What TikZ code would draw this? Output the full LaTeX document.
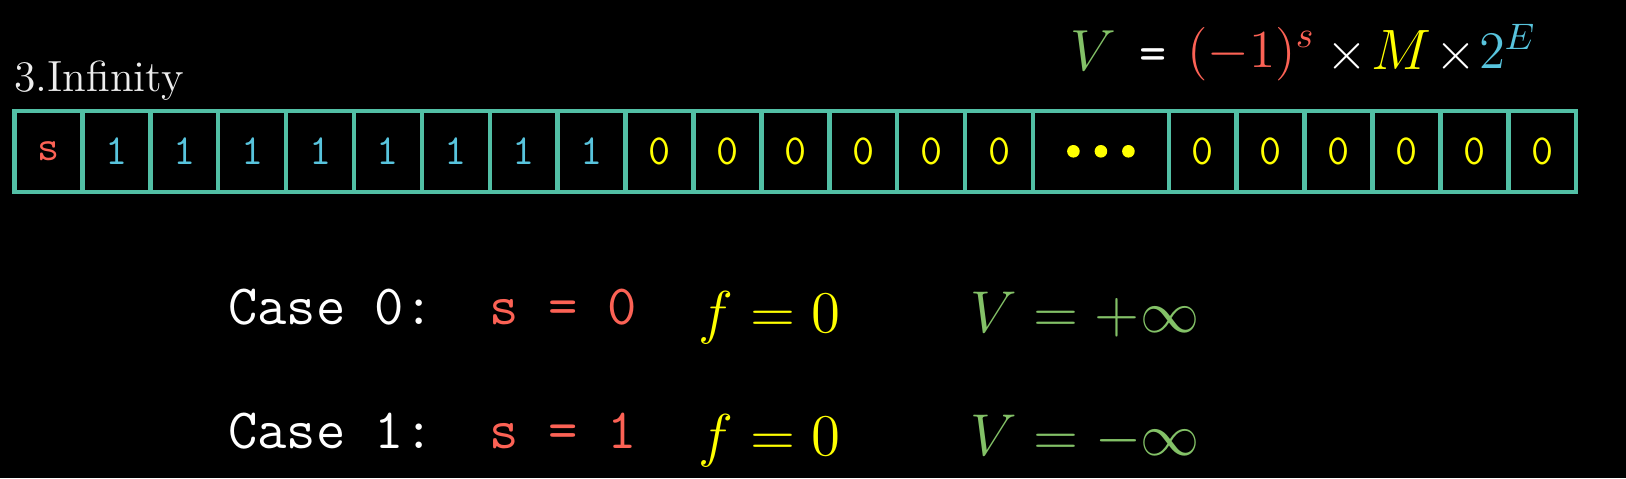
\RequirePackage{fix-cm}
\documentclass[tikz,border=0pt]{standalone}
\usepackage{color}
\usepackage{tikz}
\usetikzlibrary{positioning}

\definecolor{bitteal}{HTML}{52BFA5}
\definecolor{signred}{HTML}{FC6255}
\definecolor{expblue}{HTML}{58C4DD}
\definecolor{fracyellow}{HTML}{FFFF00}
\definecolor{valgreen}{HTML}{83C167}

\newcommand{\sized}[2]{{\fontsize{#1}{18}\selectfont#2}}

\begin{document}
\begin{tikzpicture}[
        cell/.style={draw=bitteal, line width=0.045cm, minimum width=0.679cm, minimum height=0.81cm,
            inner sep=0, outer sep=0, font=\fontsize{12.2}{14}\selectfont\ttfamily},
        casetext/.style={anchor=base west, inner sep=0, text=white, font=\fontsize{16.2}{19}\selectfont\ttfamily},
        mathtext/.style={inner sep=0, font=\fontsize{16.8}{20}\selectfont}
    ]
        \fill[black] (0, 0) rectangle (16.26, 4.78);

        \node(title) [anchor=base west, inner sep=0, text=white!93!black, font=\fontsize{12.4}{15}\selectfont] at (0.133, 3.863) {3.Infinity};

        \node(formula) [anchor=base west, inner sep=0] at (10.70, 4.08)
            {\sized{16.5}{$\color{valgreen}V$}\hspace{0.23cm}\sized{15}{\ttfamily\color{white}=}\hspace{0.21cm}%
             \raisebox{0.03cm}{\sized{15.2}{$\color{signred}(-1)^{s}$}}\hspace{0.11cm}%
             \raisebox{0.01cm}{\sized{15}{$\color{white}\times$}}\hspace{0.04cm}%
             \raisebox{0.01cm}{\sized{16.2}{$\color{fracyellow}M$}}\hspace{0.04cm}%
             \raisebox{0.01cm}{\sized{15}{$\color{white}\times$}}\hspace{0.03cm}%
             \raisebox{0.015cm}{\sized{15}{$\color{expblue}2^{E}$}}};

        % sign and exponent
        \node(s) [cell, text=signred] at (0.4845, 3.267) {s};
        \node(e1) [cell, text=expblue, right=0 of s] {1};
        \node(e2) [cell, text=expblue, right=0 of e1] {1};
        \node(e3) [cell, text=expblue, right=0 of e2] {1};
        \node(e4) [cell, text=expblue, right=0 of e3] {1};
        \node(e5) [cell, text=expblue, right=0 of e4] {1};
        \node(e6) [cell, text=expblue, right=0 of e5] {1};
        \node(e7) [cell, text=expblue, right=0 of e6] {1};
        \node(e8) [cell, text=expblue, right=0 of e7] {1};

        % fraction
        \node(f1) [cell, text=fracyellow, right=0 of e8] {0};
        \node(f2) [cell, text=fracyellow, right=0 of f1] {0};
        \node(f3) [cell, text=fracyellow, right=0 of f2] {0};
        \node(f4) [cell, text=fracyellow, right=0 of f3] {0};
        \node(f5) [cell, text=fracyellow, right=0 of f4] {0};
        \node(f6) [cell, text=fracyellow, right=0 of f5] {0};
        \node(fd) [cell, minimum width=1.358cm, right=0 of f6] {};
        \node(f7) [cell, text=fracyellow, right=0 of fd] {0};
        \node(f8) [cell, text=fracyellow, right=0 of f7] {0};
        \node(f9) [cell, text=fracyellow, right=0 of f8] {0};
        \node(f10) [cell, text=fracyellow, right=0 of f9] {0};
        \node(f11) [cell, text=fracyellow, right=0 of f10] {0};
        \node(f12) [cell, text=fracyellow, right=0 of f11] {0};

        \fill[fracyellow] ([xshift=-0.275cm]fd.center) circle (0.063) (fd.center) circle (0.063)
            ([xshift=0.275cm]fd.center) circle (0.063);

        % the two cases
        \node(c0) [casetext] at (2.275, 1.535) {Case 0:};
        \node(c1) [casetext] at (2.275, 0.297) {Case 1:};

        \node(s0) [casetext, text=signred] at (4.89, 1.535) {s = 0};
        \node(s1) [casetext, text=signred] at (4.89, 0.297) {s = 1};

        \node(f0) [mathtext, anchor=base east, text=fracyellow] at (8.41, 1.46) {$f = 0$};
        \node(fz) [mathtext, anchor=base east, text=fracyellow] at (8.41, 0.225) {$f = 0$};

        \node(v0) [mathtext, anchor=base west, text=valgreen] at (9.70, 1.46) {$V = +\infty$};
        \node(v1) [mathtext, anchor=base west, text=valgreen] at (9.70, 0.225) {$V = -\infty$};
    \end{tikzpicture}
\end{document}
